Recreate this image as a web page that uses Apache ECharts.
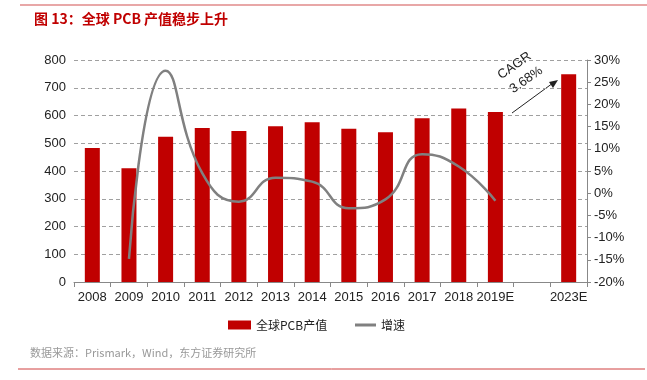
<!DOCTYPE html>
<html><head><meta charset="utf-8">
<script src="https://cdn.jsdelivr.net/npm/echarts@6/dist/echarts.min.js"></script>
<style>html,body{margin:0;padding:0;background:#fff}#c{width:647px;height:380px}</style>
</head><body><div id="c"></div>
<script>
const categories = ['2008','2009','2010','2011','2012','2013','2014','2015','2016','2017','2018','2019E','','2023E'];
const pcbValue = [483, 410, 523, 555, 544, 561, 576, 552, 540, 590, 625, 613, null, 749];
const growth = [null, -14.8, 27.6, 4.5, -1.9, 3.5, 2.6, -3.4, -1.4, 8.8, 6.0, -1.7, null, null];
const leftTicks = [0, 800, 100];
const rightTicks = [-20, 30, 5];

const chart = echarts.init(document.getElementById('c'));
const axisFont = {fontFamily: 'Liberation Sans, Arial, sans-serif', fontSize: 13, color: '#222'};
const legendText = {fontSize: 12, color: '#222', fontFamily: 'Noto Sans CJK SC, sans-serif'};
chart.setOption({
  animation: false,
  grid: {left: 74, right: 60, top: 60, bottom: 98},
  title: {
    text: '图 13：全球 PCB 产值稳步上升', left: 29, top: 7,
    textStyle: {color: '#c00000', fontSize: 14, fontWeight: 'bold', fontFamily: 'Noto Sans CJK SC, sans-serif'}
  },
  legend: [{
    top: 314, left: 223, itemWidth: 23, itemHeight: 9, itemGap: 4,
    textStyle: legendText,
    data: [{name: '全球PCB产值', icon: 'rect'}]
  }, {
    top: 314, left: 350, itemWidth: 21, itemHeight: 3, itemGap: 4,
    textStyle: legendText,
    data: [{name: '增速', icon: 'rect'}]
  }],
  xAxis: {
    type: 'category', data: categories,
    axisLine: {lineStyle: {color: '#888'}},
    axisTick: {show: true, length: 5, lineStyle: {color: '#888'}},
    axisLabel: Object.assign({margin: 9, interval: 0}, axisFont)
  },
  yAxis: [{
    type: 'value', min: leftTicks[0], max: leftTicks[1], interval: leftTicks[2],
    axisLine: {show: false}, axisTick: {show: false},
    splitLine: {lineStyle: {color: '#a0a0a0', type: [4, 3]}},
    axisLabel: Object.assign({margin: 8}, axisFont)
  }, {
    type: 'value', min: rightTicks[0], max: rightTicks[1], interval: rightTicks[2],
    position: 'right',
    axisLine: {show: true, lineStyle: {color: '#888'}},
    axisTick: {show: true, length: 4, lineStyle: {color: '#888'}},
    splitLine: {show: false},
    axisLabel: Object.assign({margin: 7, formatter: '{value}%'}, axisFont)
  }],
  series: [{
    name: '全球PCB产值', type: 'bar', data: pcbValue, barWidth: 15,
    itemStyle: {color: '#c00000'}
  }, {
    name: '增速', type: 'line', yAxisIndex: 1, data: growth, smooth: 0.5,
    symbol: 'none', connectNulls: false,
    lineStyle: {color: '#808080', width: 2.5}, itemStyle: {color: '#808080'}
  }],
  graphic: [
    {type: 'line', shape: {x1: 20, y1: 5, x2: 647, y2: 5}, style: {stroke: '#e08a8a', lineWidth: 1.5}},
    {type: 'line', shape: {x1: 18, y1: 369, x2: 645, y2: 369}, style: {stroke: '#d04040', lineWidth: 1}},
    {type: 'text', left: 30, top: 347, style: {text: '数据来源：Prismark，Wind，东方证券研究所', fill: '#999', fontSize: 11, fontFamily: 'Noto Sans CJK SC, sans-serif'}},
    {type: 'line', shape: {x1: 512, y1: 113, x2: 553, y2: 83}, style: {stroke: '#222', lineWidth: 1}},
    {type: 'polygon', shape: {points: [[558, 80], [549, 82], [553, 88]]}, style: {fill: '#222'}},
    {type: 'text', x: 503, y: 82, rotation: 0.62, style: {text: 'CAGR', fill: '#222', fontSize: 13, fontFamily: 'Liberation Sans, Arial, sans-serif', textVerticalAlign: 'bottom'}},
    {type: 'text', x: 515, y: 96, rotation: 0.62, style: {text: '3.68%', fill: '#222', fontSize: 13, fontFamily: 'Liberation Sans, Arial, sans-serif', textVerticalAlign: 'bottom'}}
  ]
});
</script></body></html>
